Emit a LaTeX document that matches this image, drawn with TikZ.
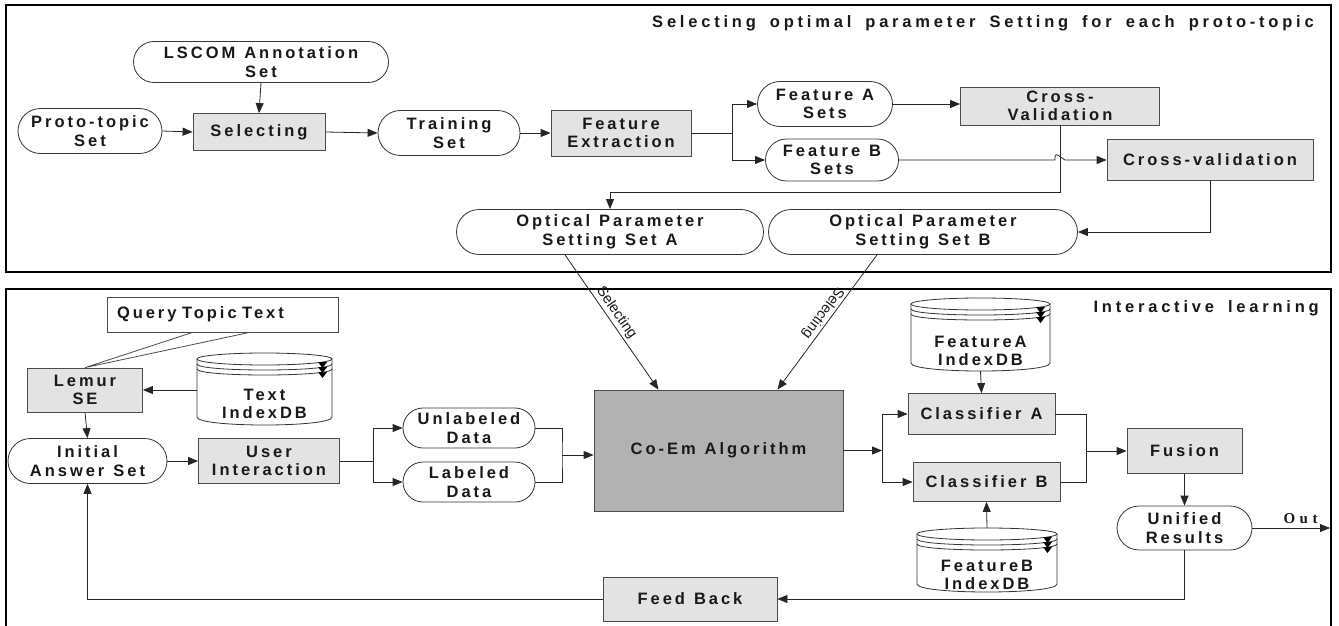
\documentclass[tikz,border=0pt]{standalone}
\usepackage{fontspec}
\setmainfont{Liberation Sans}
\newfontfamily\bsp{Liberation Sans}[LetterSpace=18]
\newfontfamily\tsp{Liberation Sans}[LetterSpace=23]
\newfontfamily\osp{Liberation Serif}[LetterSpace=30]
\usetikzlibrary{shapes.misc,arrows.meta,calc}

\newcommand\nodefont{\bsp\bfseries\fontsize{16.5}{18.5}\selectfont\spaceskip=9pt\relax}
\newcommand\titlefont{\tsp\bfseries\fontsize{16.5}{18}\selectfont\spaceskip=14pt\relax}
\newcommand\outfont{\osp\bfseries\fontsize{15}{16}\selectfont}
\newcommand\edgefont{\fontsize{14.5}{16}\selectfont}

\tikzset{
  base/.style={font=\nodefont, align=center, inner sep=0pt, text=black!90},
  proc/.style={base, rectangle, draw=black!70, fill=gray!22, line width=0.8pt},
  term/.style={base, rounded rectangle, draw=black!80, fill=white, line width=0.8pt},
  dbtext/.style={base, rectangle, draw=none},
  qbox/.style={base, rectangle, draw=black!70, fill=white, line width=0.8pt, align=left, text width=211pt, inner xsep=10pt},
  conn/.style={line width=0.8pt, draw=black!85},
  arr/.style={conn, -{Triangle[length=10pt,width=8pt]}},
  panel/.style={line width=2.5pt, draw=black},
  ttl/.style={font=\titlefont, inner sep=0pt, text=black!90},
  elab/.style={font=\edgefont, inner sep=2pt, text=black!90},
  sz/.style 2 args={minimum width=#1pt, minimum height=#2pt},
}

% cylinder database: x1, ytop, x2, ybottom, name for top/bottom coordinates
\newcommand\dbcyl[5]{%
  \pgfmathsetmacro\cx{(#1+#3)/2}\pgfmathsetmacro\rx{(#3-#1)/2}%
  \fill[white] (#1,#2+6) rectangle (#3,#4-8);
  \draw[conn, black!80] (#1,#2+6) -- (#1,#4-8) .. controls (#1,#4+2.67) and (#3,#4+2.67) .. (#3,#4-8) -- (#3,#2+6);
  \draw[conn, black!80, fill=white] (\cx,#2+6) ellipse[x radius=\rx, y radius=6];
  \draw[conn, black!80] (#1,#2+11) .. controls (#1,#2+19) and (#3,#2+19) .. (#3,#2+11);
  \draw[conn, black!80] (#1,#2+16) .. controls (#1,#2+24) and (#3,#2+24) .. (#3,#2+16);
  \foreach \k in {0,5,10}{\fill[black] (#3-14,#2+9+\k) -- (#3-5,#2+9+\k) -- (#3-9.5,#2+15+\k) -- cycle;}
  \coordinate (#5top) at (\cx,#2);
  \coordinate (#5bot) at (\cx,#4);
}

\begin{document}
\begin{tikzpicture}[x=1pt,y=-1pt]
\useasboundingbox (0,0) rectangle (1339,626);
\fill[white] (0,0) rectangle (1339,626);

% panels
\draw[panel] (6,5) rectangle (1331,272);
\draw[panel] (6,626) -- (6,289) -- (1331,289) -- (1331,626);
\node[ttl, anchor=base east] (t1) at (1314,28) {Selecting optimal parameter Setting for each proto-topic};
\node[ttl, anchor=base east] (t2) at (1319,312) {Interactive learning};

% ---------- top panel ----------
\node[term, sz={255}{41}] (lscom) at (261,62) {LSCOM Annotation\\Set};
\node[term, sz={144}{45}] (proto) at (90,131) {Proto-topic\\Set};
\node[proc, sz={132}{37}] (sel) at (259,132) {Selecting};
\node[term, sz={142}{45}] (train) at (449,133) {Training\\Set};
\node[proc, sz={140}{46}] (fe) at (621,133) {Feature\\Extraction};
\node[term, sz={135}{45}] (fa) at (825,104) {Feature A\\Sets};
\node[term, sz={133}{42}] (fb) at (832,160) {Feature B\\Sets};
\node[proc, sz={199}{38}] (cva) at (1060,106) {Cross-\\Validation};
\node[proc, sz={206}{41}] (cvb) at (1210,160) {Cross-validation};
\node[term, sz={307}{45}] (psa) at (610,232) {Optical Parameter\\Setting Set A};
\node[term, sz={309}{45}] (psb) at (923,232) {Optical Parameter\\Setting Set B};

\coordinate (brA) at (732,133);
\coordinate (j1) at (1060,192);
\coordinate (hopL) at (1055,160);

\draw[arr] (lscom.south) -- (sel.north);
\draw[arr] (proto.east) -- (sel.west);
\draw[arr] (sel.east) -- (train.west);
\draw[arr] (train.east) -- (fe.west);
\draw[conn] (fe.east) -- (brA);
\draw[arr] (brA) |- (fa.west);
\draw[arr] (brA) |- (fb.west);
\draw[arr] (fa.east) -- (fa.east -| cva.west);
\draw[arr] (fb.east) -- (hopL) .. controls ++(0,-7) and ++(-10,-7) .. ++(10,0) -- (cvb.west);
\draw[arr] (cva.south) -- (j1) -| (psa.north);
\draw[arr] (cvb.south) |- (psb.east);

% ---------- bottom panel ----------
\node[qbox, sz={231}{35}] (query) at (222.5,314.5) {Query Topic Text};
\node[proc, sz={115}{44}] (lemur) at (85,390) {Lemur\\SE};
\draw[conn, black!70] ($(query.south west)+(86,0)$) -- (lemur.north) -- ($(query.south west)+(143,0)$);

\dbcyl{197}{353}{332}{425}{tdb}
\node[dbtext, sz={135}{40}] (tdb) at (264.5,404) {Text\\IndexDB};

\node[term, sz={159}{45}] (init) at (87.5,461) {Initial\\Answer Set};
\node[proc, sz={141}{45}] (user) at (269,461) {User\\Interaction};
\node[term, sz={132}{40}] (unl) at (469,428) {Unlabeled\\Data};
\node[term, sz={132}{40}] (lab) at (469,482) {Labeled\\Data};
\node[proc, sz={249}{121}, fill=gray!60] (coem) at (718.5,450.5) {Co-Em Algorithm};

\dbcyl{911}{298}{1050}{371}{fadb}
\node[dbtext, sz={139}{40}] (fadb) at (980.5,351) {FeatureA\\IndexDB};
\dbcyl{917}{528}{1057}{592}{fbdb}
\node[dbtext, sz={140}{36}] (fbdb) at (987,575) {FeatureB\\IndexDB};

\node[proc, sz={147}{41}] (cla) at (981.5,414) {Classifier A};
\node[proc, sz={147}{39}] (clb) at (986.5,482) {Classifier B};
\node[proc, sz={115}{45}] (fusion) at (1184.5,451) {Fusion};
\node[term, sz={135}{44}] (unified) at (1184.5,528) {Unified\\Results};
\node[proc, sz={174}{44}] (feedback) at (690,599) {Feed Back};

\coordinate (brU) at (373,461);
\coordinate (j2) at (562,455);
\coordinate (j3) at (882,450.5);
\coordinate (j4) at (1086,451);
\coordinate (outp) at (1330,528);

\draw[arr] (tdb.west |- lemur.east) -- (lemur.east);
\draw[arr] (lemur.south) -- (init.north);
\draw[arr] (init.east) -- (user.west);
\draw[conn] (user.east) -- (brU);
\draw[arr] (brU) |- (unl.west);
\draw[arr] (brU) |- (lab.west);
\draw[conn] (unl.east) -| (j2) |- (lab.east);
\draw[arr] (j2) -- (coem.west |- j2);

\draw[arr] ($(psa.south)+(-45,0)$) -- node[elab, sloped, above, pos=0.47] {Selecting} ($(coem.north)+(-60,0)$);
\draw[arr] ($(psb.south)+(-46,0)$) -- node[elab, sloped, allow upside down, below, pos=0.47] {Selecting} ($(coem.north)+(59,0)$);

\draw[arr] (coem.east) -- (j3);
\draw[arr] (j3) |- (cla.west);
\draw[arr] (j3) |- (clb.west);
\draw[arr] (fadbbot) -- (cla.north);
\draw[arr] (fbdbtop) -- (clb.south);
\draw[conn] (cla.east) -| (j4) |- (clb.east);
\draw[arr] (j4) -- (fusion.west);
\draw[arr] (fusion.south) -- (unified.north);
\draw[arr] (unified.east) -- node[pos=0.62, above=4pt, font=\outfont, inner sep=0pt, text=black!90] {Out} (outp);
\draw[arr] (unified.south) |- (feedback.east);
\draw[arr] (feedback.west) -| (init.south);
\end{tikzpicture}
\end{document}
